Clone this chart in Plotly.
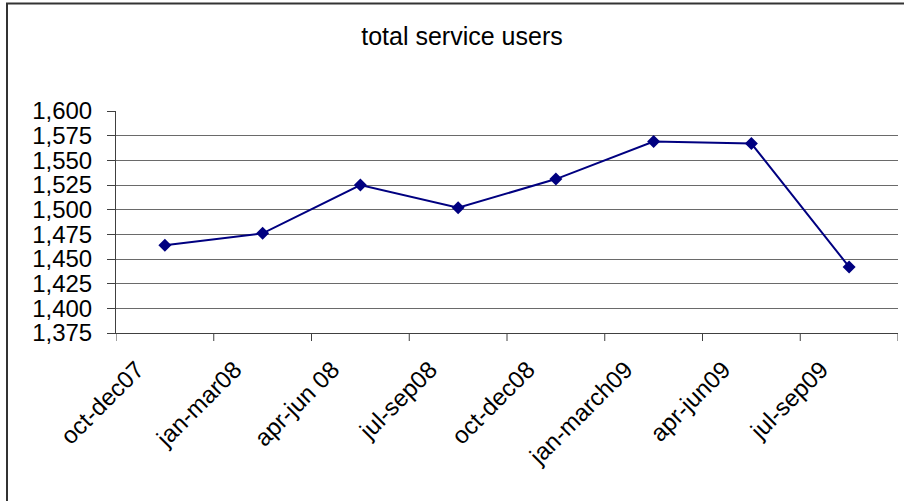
import plotly.graph_objects as go

categories = ["oct-dec07", "jan-mar08", "apr-jun 08", "jul-sep08",
              "oct-dec08", "jan-march09", "apr-jun09", "jul-sep09"]
users = [1464, 1476, 1525, 1502, 1531, 1569, 1567, 1442]
y_ticks = [1375, 1400, 1425, 1450, 1475, 1500, 1525, 1550, 1575, 1600]
y_tick_labels = ["1,375", "1,400", "1,425", "1,450", "1,475", "1,500",
                 "1,525", "1,550", "1,575", "1,600"]

W, H = 904, 501
L, R, T, B = 116, 6, 111, 168
pw, ph = W - L - R, H - T - B

fig = go.Figure()
fig.add_trace(go.Scatter(
    x=categories, y=users, mode="lines+markers",
    line=dict(color="#000080", width=2),
    marker=dict(symbol="diamond", size=10, color="#000080"),
    cliponaxis=False,
))

def px_x(p):
    return (p - L) / pw

def px_y(p):
    return (H - B - p) / ph

fig.update_layout(
    width=W, height=H,
    margin=dict(l=L, r=R, t=T, b=B),
    paper_bgcolor="white", plot_bgcolor="white",
    showlegend=False,
    font=dict(family="Liberation Sans, Arial, sans-serif", color="black"),
    title=dict(text="total service users", x=px_x(462), xanchor="center",
               xref="paper", y=1 - 36 / H, yanchor="middle",
               font=dict(size=25, color="black")),
    xaxis=dict(
        type="category", range=[-0.5, 7.5],
        showgrid=False, showline=True, linecolor="#404040", linewidth=1,
        ticks="", tickangle=-45, tickfont=dict(size=24),
        ticklabelshift=-28, ticklabelstandoff=12,
        zeroline=False,
    ),
    yaxis=dict(
        range=[1375, 1600], tickvals=y_ticks, ticktext=y_tick_labels,
        showgrid=True, gridcolor="#6a6a6a", gridwidth=1.4,
        showline=True, linecolor="#404040", linewidth=1,
        ticks="outside", ticklen=8, tickcolor="#404040",
        tickfont=dict(size=24), ticklabelstandoff=10, zeroline=False,
    ),
    shapes=[
        # category boundary tick marks on x axis
        *[dict(type="line", xref="x", yref="paper", x0=i - 0.5, x1=i - 0.5,
               y0=0, y1=-8 / ph, line=dict(color="#404040", width=1))
          for i in range(len(categories) + 1)],
        # outer frame
        dict(type="rect", xref="paper", yref="paper",
             x0=px_x(7), x1=px_x(W + 20), y0=px_y(H + 20), y1=px_y(3.5),
             line=dict(color="#333333", width=2), layer="below"),
    ],
)

fig.write_html("out.html",
               config={"displayModeBar": False},
               post_script="document.body.style.margin='0';document.body.style.overflow='hidden';")
